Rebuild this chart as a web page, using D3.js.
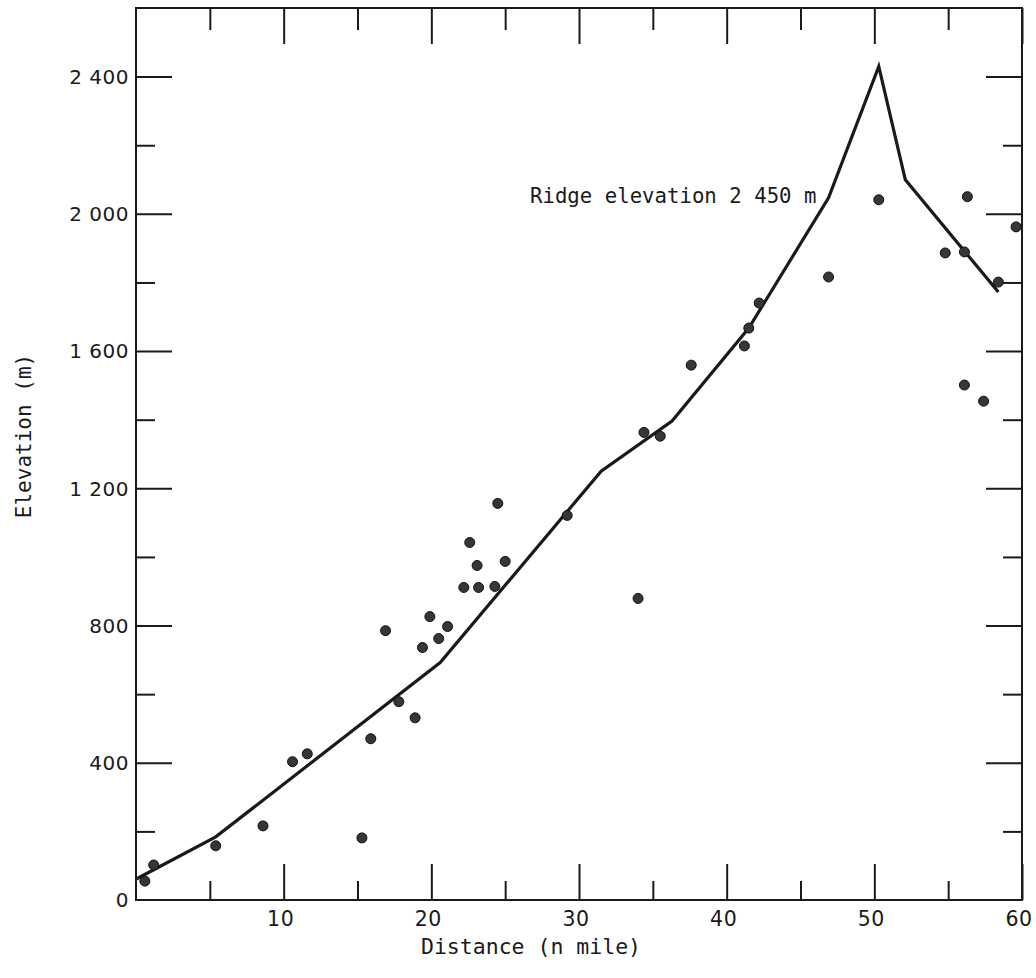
<!DOCTYPE html>
<html>
<head>
<meta charset="utf-8">
<script src="https://cdn.jsdelivr.net/npm/d3@7"></script>
<style>
  html, body { margin: 0; padding: 0; background: #ffffff; }
  svg { display: block; }
</style>
</head>
<body>
<svg id="chart" width="1036" height="978"></svg>
<script>
// ---- data ----
const ridgeDist = [0.05, 5.4, 20.6, 31.5, 36.3, 41.5, 46.9, 50.3, 52.1, 58.4];
const ridgeElev = [62, 184, 692, 1250, 1396, 1667, 2047, 2430, 2099, 1772];

const obsDist = [0.6, 1.2, 5.4, 8.6, 10.6, 11.6, 15.3, 15.9, 16.9, 17.8, 18.9, 19.4, 19.9, 20.5, 21.1,
                 22.2, 22.6, 23.1, 23.2, 24.3, 24.5, 25.0, 29.2, 34.0, 34.4, 35.5, 37.6, 41.2, 41.5,
                 42.2, 46.9, 50.3, 54.8, 56.1, 56.1, 56.3, 57.4, 58.4, 59.6];
const obsElev = [55, 102, 158, 216, 403, 426, 181, 470, 785, 578, 531, 736, 826, 762, 797,
                 911, 1042, 975, 911, 914, 1156, 987, 1121, 879, 1363, 1352, 1559, 1615, 1667,
                 1740, 1816, 2041, 1886, 1889, 1501, 2050, 1454, 1801, 1962];

const xTickValues = [5, 10, 15, 20, 25, 30, 35, 40, 45, 50, 55, 60];
const xTickLabels = ["10", "20", "30", "40", "50", "60"];
const yTickValues = [200, 400, 600, 800, 1000, 1200, 1400, 1600, 1800, 2000, 2200, 2400];
const yTickLabels = ["0", "400", "800", "1 200", "1 600", "2 000", "2 400"];

const xTitle = "Distance (n mile)";
const yTitle = "Elevation (m)";
const annotation = "Ridge elevation 2 450 m";

// ---- layout ----
const pLeft = 136, pRight = 1022, pTop = 8, pBottom = 900;
const svg = d3.select("#chart");
const ink = "#1a1a1a";

const x = d3.scaleLinear().domain([0, 60]).range([pLeft, pRight]);
const y = d3.scaleLinear().domain([0, 2600]).range([pBottom, pTop]);

const tickFont = "'DejaVu Sans', sans-serif";
const monoFont = "'DejaVu Sans Mono', monospace";

// frame
svg.append("rect")
  .attr("x", pLeft).attr("y", pTop)
  .attr("width", pRight - pLeft).attr("height", pBottom - pTop)
  .attr("fill", "none").attr("stroke", ink).attr("stroke-width", 2);

const majorLen = 36, minorLen = 19;

// bottom axis (ticks inward)
const xb = d3.axisBottom(x).tickValues(xTickValues)
  .tickSizeInner(0).tickSizeOuter(0).tickFormat(() => "");
const gxb = svg.append("g").attr("transform", `translate(0,${pBottom})`).call(xb);
gxb.select(".domain").remove();
gxb.selectAll(".tick line")
  .attr("y2", d => -(d % 10 === 0 ? majorLen : minorLen))
  .attr("stroke", ink).attr("stroke-width", 2);

// top axis (ticks inward)
const xt = d3.axisTop(x).tickValues(xTickValues)
  .tickSizeInner(0).tickSizeOuter(0).tickFormat(() => "");
const gxt = svg.append("g").attr("transform", `translate(0,${pTop})`).call(xt);
gxt.select(".domain").remove();
gxt.selectAll(".tick line")
  .attr("y2", d => (d % 10 === 0 ? majorLen : minorLen + 3))
  .attr("stroke", ink).attr("stroke-width", 2);

// left axis (ticks inward)
const yl = d3.axisLeft(y).tickValues(yTickValues)
  .tickSizeInner(0).tickSizeOuter(0).tickFormat(() => "");
const gyl = svg.append("g").attr("transform", `translate(${pLeft},0)`).call(yl);
gyl.select(".domain").remove();
gyl.selectAll(".tick line")
  .attr("x2", d => (d % 400 === 0 ? majorLen : minorLen))
  .attr("stroke", ink).attr("stroke-width", 2);

// right axis (ticks inward)
const yr = d3.axisRight(y).tickValues(yTickValues)
  .tickSizeInner(0).tickSizeOuter(0).tickFormat(() => "");
const gyr = svg.append("g").attr("transform", `translate(${pRight},0)`).call(yr);
gyr.select(".domain").remove();
gyr.selectAll(".tick line")
  .attr("x2", d => -(d % 400 === 0 ? majorLen : minorLen))
  .attr("stroke", ink).attr("stroke-width", 2);

// x tick labels
svg.append("g").selectAll("text")
  .data(xTickLabels)
  .join("text")
  .attr("x", d => x(+d) - 3)
  .attr("y", 926)
  .attr("text-anchor", "middle")
  .attr("font-family", tickFont)
  .attr("font-size", 20.5)
  .attr("letter-spacing", 0.5)
  .attr("fill", ink)
  .text(d => d);

// y tick labels
svg.append("g").selectAll("text")
  .data(yTickLabels)
  .join("text")
  .attr("x", 129)
  .attr("y", d => y(+d.replace(/\s/g, "")))
  .attr("dy", "0.36em")
  .attr("text-anchor", "end")
  .attr("font-family", tickFont)
  .attr("font-size", 20)
  .attr("letter-spacing", 0.5)
  .attr("fill", ink)
  .attr("xml:space", "preserve")
  .style("white-space", "pre")
  .text(d => d);

// ridge line
const line = d3.line().x(d => x(d[0])).y(d => y(d[1]));
svg.append("path")
  .datum(d3.zip(ridgeDist, ridgeElev))
  .attr("d", line)
  .attr("fill", "none")
  .attr("stroke", ink)
  .attr("stroke-width", 3.2)
  .attr("stroke-linejoin", "miter");

// observation dots
svg.append("g").selectAll("circle")
  .data(d3.zip(obsDist, obsElev))
  .join("circle")
  .attr("cx", d => x(d[0]))
  .attr("cy", d => y(d[1]))
  .attr("r", 5)
  .attr("fill", "#363636")
  .attr("stroke", "#111")
  .attr("stroke-width", 1);

// annotation
svg.append("text")
  .attr("x", 530).attr("y", 203)
  .attr("font-family", monoFont)
  .attr("font-size", 20.7)
  .attr("fill", ink)
  .attr("xml:space", "preserve")
  .style("white-space", "pre")
  .text(annotation);

// axis titles
svg.append("text")
  .attr("x", 531).attr("y", 954)
  .attr("text-anchor", "middle")
  .attr("font-family", monoFont)
  .attr("font-size", 21.5)
  .attr("fill", ink)
  .text(xTitle);

svg.append("text")
  .attr("transform", "translate(31,436) rotate(-90)")
  .attr("text-anchor", "middle")
  .attr("font-family", monoFont)
  .attr("font-size", 21)
  .attr("fill", ink)
  .text(yTitle);
</script>
</body>
</html>
